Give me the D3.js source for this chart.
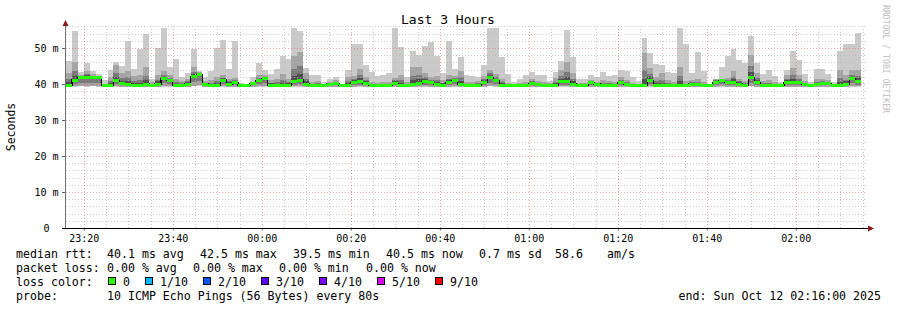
<!DOCTYPE html>
<html><head><meta charset="utf-8">
<script src="https://cdn.jsdelivr.net/npm/d3@7"></script>
<style>
html,body{margin:0;padding:0;background:#fff;}
svg{display:block;font-family:"DejaVu Sans Mono",monospace;}
text{white-space:pre;}
</style></head><body>
<svg id="c" width="897" height="310"></svg>
<script>
// ---------- data ----------
const startTime = Date.UTC(2025, 9, 11, 23, 16, 0);
const endTime   = Date.UTC(2025, 9, 12, 2, 16, 0);
const stepSeconds = 80;

const medianRtt = [39.7,41.1,41.9,41.9,41.9,41.9,39.5,39.5,40.9,40.2,
 40.0,39.6,39.6,40.0,39.5,40.0,41.4,40.9,39.5,39.5,
 40.0,42.0,42.6,40.0,39.5,39.5,41.1,40.0,40.4,39.6,
 39.5,40.2,40.9,41.4,39.7,39.5,39.5,39.7,40.7,41.1,
 40.0,39.5,39.7,39.5,40.0,40.2,39.5,39.5,40.5,40.7,
 40.2,39.5,39.5,39.5,39.5,40.2,39.5,39.5,40.0,40.2,
 40.7,40.4,40.0,39.7,40.4,40.9,40.0,39.5,39.5,39.7,
 40.5,41.9,40.9,39.7,39.5,39.5,39.5,39.5,40.2,40.0,
 39.5,39.5,39.5,40.7,40.7,40.0,39.5,39.5,40.5,40.0,
 39.5,39.7,39.5,40.3,40.0,39.5,39.5,39.5,40.9,39.7,
 39.5,39.5,39.5,39.5,39.5,40.0,39.8,39.5,39.5,40.5,
 40.9,40.5,40.5,40.0,39.5,41.9,40.5,39.5,39.5,39.5,
 39.5,40.5,40.5,40.3,40.0,39.5,39.8,40.2,40.2,39.5,
 39.5,40.0,41.4,40.7];

const pingMax = [46.3,54.8,43.2,45.8,43.7,42.8,41.0,44.0,46.0,45.1,
 52.0,44.2,49.7,53.9,41.4,50.0,55.6,44.6,46.9,41.9,
 43.0,49.7,43.7,41.9,43.7,50.0,52.2,44.2,51.9,40.3,
 40.0,41.9,45.9,43.9,42.8,44.2,47.9,46.9,55.6,54.8,
 44.4,42.5,42.5,40.5,41.4,41.9,40.0,43.9,51.1,51.1,
 45.4,43.2,42.3,42.6,43.0,55.6,50.2,41.9,49.3,48.1,
 50.6,51.6,47.9,43.0,51.9,44.2,47.4,42.6,42.3,42.0,
 45.4,55.6,55.6,47.6,42.8,40.5,41.4,42.6,43.4,42.6,
 42.6,40.7,43.2,46.5,55.0,47.6,41.4,41.4,42.6,42.0,
 43.4,42.3,42.6,43.9,43.7,42.0,40.9,52.8,48.5,45.6,
 45.3,43.4,43.0,55.6,51.1,43.0,48.8,43.7,40.0,40.9,
 44.6,47.9,49.7,46.7,45.7,53.4,45.9,42.8,43.9,42.3,
 40.5,43.9,49.3,46.7,42.8,40.5,44.2,44.2,42.8,40.5,
 49.3,51.1,51.1,54.1];

const pingHigh = [43.0,46.0,42.5,43.7,42.8,42.3,39.9,42.0,45.4,43.0,
 43.7,42.2,42.5,44.6,40.5,42.5,43.7,42.6,41.5,40.8,
 41.5,44.6,43.3,40.8,41.0,42.0,42.5,41.5,41.8,40.0,
 39.8,40.5,42.5,42.5,41.0,41.5,42.8,41.5,47.9,48.8,
 43.0,40.5,40.8,40.0,40.6,41.0,39.8,42.0,42.3,44.2,
 42.0,40.5,40.3,40.5,40.5,41.8,42.6,40.5,44.6,44.6,
 43.0,42.0,42.3,41.0,42.5,42.3,43.7,40.5,40.5,40.8,
 42.3,44.0,42.8,41.5,40.3,39.9,40.3,40.5,41.4,40.8,
 40.5,40.2,41.8,43.8,46.0,43.0,40.3,40.3,41.0,40.5,
 41.0,40.7,40.5,42.0,41.0,40.3,40.0,48.5,44.5,42.0,
 43.0,41.0,40.5,44.8,40.7,41.0,41.5,40.6,39.8,41.5,
 41.4,41.8,43.5,41.5,40.8,48.1,43.0,40.8,41.0,40.5,
 40.0,42.5,44.5,42.5,40.8,39.9,41.5,41.5,41.0,40.0,
 43.8,42.5,43.8,44.0];

const pingMin = [39.2,39.3,39.4,39.3,39.4,39.3,39.2,39.2,39.3,39.2,
 39.2,39.2,39.2,39.2,39.2,39.2,39.3,39.3,39.2,39.2,
 39.2,39.4,39.5,39.2,39.2,39.2,39.3,39.2,39.2,39.2,
 39.2,39.2,39.3,39.3,39.2,39.2,39.2,39.2,39.3,39.3,
 39.2,39.2,39.2,39.2,39.2,39.2,39.2,39.2,39.2,39.3,
 39.2,39.2,39.2,39.2,39.2,39.2,39.2,39.2,39.2,39.2,
 39.3,39.2,39.2,39.2,39.2,39.3,39.2,39.2,39.2,39.2,
 39.2,39.4,39.3,39.2,39.2,39.2,39.2,39.2,39.2,39.2,
 39.2,39.2,39.2,39.3,39.3,39.2,39.2,39.2,39.2,39.2,
 39.2,39.2,39.2,39.2,39.2,39.2,39.2,39.2,39.3,39.2,
 39.2,39.2,39.2,39.2,39.2,39.2,39.2,39.2,39.2,39.2,
 39.3,39.2,39.2,39.2,39.2,39.4,39.2,39.2,39.2,39.2,
 39.2,39.2,39.2,39.2,39.2,39.2,39.2,39.2,39.2,39.2,
 39.2,39.2,39.3,39.3];

const yTickValues = [0, 10, 20, 30, 40, 50];
const yUnit = "m";
const title = "Last 3 Hours";
const yLabel = "Seconds";
const statsRtt = ["median rtt:", "40.1 ms avg", "42.5 ms max", "39.5 ms min", "40.5 ms now", "0.7 ms sd", "58.6", "am/s"];
const statsLoss = ["packet loss:", "0.00 % avg", "0.00 % max", "0.00 % min", "0.00 % now"];
const lossLabels = ["0", "1/10", "2/10", "3/10", "4/10", "5/10", "9/10"];
const lossColors = ["#26ff00", "#00b8ff", "#0059ff", "#5e00ff", "#7e00ff", "#dd00ff", "#ff0000"];
const probeText = "10 ICMP Echo Pings (56 Bytes) every 80s";
const endText = "end: Sun Oct 12 02:16:00 2025";
const watermark = "RRDTOOL / TOBI OETIKER";

// ---------- chart ----------
const svg = d3.select("#c");
const X0 = 66, X1 = 867, Y0 = 228;
const x = d3.scaleTime().domain([new Date(startTime), new Date(endTime)]).range([X0, X1]);
const y = d3.scaleLinear().domain([0, 56]).range([Y0, Y0 - 56 * 3.6]);

const bars = medianRtt.map((m, i) => ({
  t0: new Date(startTime + i * stepSeconds * 1000),
  t1: new Date(startTime + (i + 1) * stepSeconds * 1000),
  med: m, max: pingMax[i], hi: pingHigh[i], min: pingMin[i]
}));

const plot = svg.append("g").attr("shape-rendering", "crispEdges");

function layer(lo, hi, color) {
  plot.append("g").selectAll("rect").data(bars).join("rect")
    .attr("x", d => x(d.t0))
    .attr("width", d => x(d.t1) - x(d.t0))
    .attr("y", d => y(hi(d)))
    .attr("height", d => Math.max(0, y(lo(d)) - y(hi(d))))
    .attr("fill", color);
}
layer(d => d.min, d => d.max, "#cacaca");
layer(d => d.min + 0.1, d => d.hi, "#a4a4a4");
layer(d => d.min + (d.med - d.min) * 0.4, d => d.med + (d.hi - d.med) * 0.5, "#7a7a7a");
layer(d => d.med - 0.35, d => d.med + (d.hi - d.med) * 0.2 + 0.2, "#505050");

// grid (drawn over the smoke, semi transparent like rrdtool)
const grid = svg.append("g");
const minorY = d3.range(2, 57, 2).filter(v => v % 10 !== 0);
grid.selectAll(".gy").data(minorY).join("line")
  .attr("x1", X0).attr("x2", X1)
  .attr("y1", d => Math.round(y(d)) + 0.5).attr("y2", d => Math.round(y(d)) + 0.5)
  .attr("stroke", "#b8b8b8").attr("stroke-opacity", 0.75).attr("stroke-dasharray", "1,2");
const minorX = d3.utcMinute.every(5).range(new Date(startTime), new Date(endTime)).filter(t => t.getUTCMinutes() % 20 !== 0);
grid.selectAll(".gx").data(minorX).join("line")
  .attr("y1", Y0).attr("y2", y(56))
  .attr("x1", d => Math.round(x(d)) + 0.5).attr("x2", d => Math.round(x(d)) + 0.5)
  .attr("stroke", "#b8b8b8").attr("stroke-opacity", 0.75).attr("stroke-dasharray", "1,2");
grid.selectAll(".my").data(yTickValues.filter(v => v > 0)).join("line")
  .attr("x1", X0).attr("x2", X1)
  .attr("y1", d => Math.round(y(d)) + 0.5).attr("y2", d => Math.round(y(d)) + 0.5)
  .attr("stroke", "#e86060").attr("stroke-opacity", 0.6).attr("stroke-dasharray", "1,2");
const majorX = d3.utcMinute.every(20).range(new Date(startTime), new Date(endTime));
grid.selectAll(".mx").data(majorX).join("line")
  .attr("y1", Y0).attr("y2", y(56))
  .attr("x1", d => Math.round(x(d)) + 0.5).attr("x2", d => Math.round(x(d)) + 0.5)
  .attr("stroke", "#e86060").attr("stroke-opacity", 0.6).attr("stroke-dasharray", "1,2");

// median: black step line + green segments
const stepPts = bars.map(d => [x(d.t0), y(d.med)]);
stepPts.push([x(bars[bars.length - 1].t1), y(bars[bars.length - 1].med)]);
svg.append("path").attr("d", d3.line().curve(d3.curveStepAfter)(stepPts))
  .attr("fill", "none").attr("stroke", "#000").attr("stroke-width", 1.2)
  .attr("shape-rendering", "crispEdges");
svg.append("g").selectAll("rect").data(bars).join("rect")
  .attr("x", d => x(d.t0)).attr("width", d => x(d.t1) - x(d.t0))
  .attr("y", d => y(d.med) - 1.5).attr("height", 3)
  .attr("fill", lossColors[0]).attr("shape-rendering", "crispEdges");

// axes
const yAxis = d3.axisLeft(y).tickValues(yTickValues).tickSize(4).tickPadding(3)
  .tickFormat(v => v === 0 ? "0" : v + " " + yUnit);
const gy = svg.append("g").attr("transform", `translate(${X0 - 0.5},0)`).call(yAxis);
gy.select(".domain").remove();
gy.selectAll("line").attr("stroke", "#666").attr("shape-rendering", "crispEdges");
gy.selectAll("text").attr("font-size", 10).attr("fill", "#000").attr("font-family", "DejaVu Sans Mono")
  .attr("dx", v => v === 0 ? -9 : 0);

const xAxis = d3.axisBottom(x).ticks(d3.utcMinute.every(20)).tickSize(2).tickPadding(4)
  .tickFormat(d3.utcFormat("%H:%M"));
const gx = svg.append("g").attr("transform", `translate(0,${Y0 + 0.5})`).call(xAxis);
gx.select(".domain").remove();
gx.selectAll("line").attr("stroke", "#666");
gx.selectAll("text").attr("font-size", 10).attr("fill", "#000").attr("font-family", "DejaVu Sans Mono");

svg.append("line").attr("x1", X0 - 0.5).attr("x2", X0 - 0.5).attr("y1", Y0).attr("y2", 24)
  .attr("stroke", "#707070");
svg.append("line").attr("x1", X0 - 4).attr("x2", X1 + 2).attr("y1", Y0 + 0.5).attr("y2", Y0 + 0.5)
  .attr("stroke", "#000");
svg.append("path").attr("d", `M${X0 - 3.5},26 L${X0 + 2.5},26 L${X0 - 0.5},20 Z`).attr("fill", "#8b1a1a");
svg.append("path").attr("d", `M${X1 + 1},${Y0 - 2.5} L${X1 + 1},${Y0 + 3.5} L${X1 + 7},${Y0 + 0.5} Z`).attr("fill", "#8b1a1a");

// title, labels
svg.append("text").attr("x", 448).attr("y", 24).attr("text-anchor", "middle")
  .attr("font-size", 13).text(title);
svg.append("text").attr("transform", "translate(15,127) rotate(-90)").attr("text-anchor", "middle")
  .attr("font-size", 11.5).text(yLabel);
svg.append("text").attr("transform", "translate(883,5) rotate(90)")
  .attr("font-size", 8.6).attr("fill", "#bdbdbd").attr("textLength", 108).attr("lengthAdjust", "spacingAndGlyphs")
  .text(watermark);

// legend
const fs = 11.6;
const lg = svg.append("g").attr("font-size", fs).attr("fill", "#000");
const rttX = [16, 107, 200, 293, 386, 479, 555, 607];
statsRtt.forEach((s, i) => lg.append("text").attr("x", rttX[i]).attr("y", 258).text(s));
const lossX = [16, 107, 193, 279, 366];
statsLoss.forEach((s, i) => lg.append("text").attr("x", lossX[i]).attr("y", 272).text(s));
lg.append("text").attr("x", 16).attr("y", 286).text("loss color:");
let bx = 108;
lossLabels.forEach((lab, i) => {
  lg.append("rect").attr("x", bx + 0.5).attr("y", 277.5).attr("width", 7).attr("height", 7)
    .attr("fill", lossColors[i]).attr("stroke", "#000").attr("shape-rendering", "crispEdges");
  lg.append("text").attr("x", bx + 15).attr("y", 286).text(lab);
  bx = bx + 15 + lab.length * 7 + 15;
});
lg.append("text").attr("x", 16).attr("y", 300).text("probe:");
lg.append("text").attr("x", 107).attr("y", 300).text(probeText);
lg.append("text").attr("x", 881).attr("y", 300).attr("text-anchor", "end").text(endText);
</script>
</body></html>
